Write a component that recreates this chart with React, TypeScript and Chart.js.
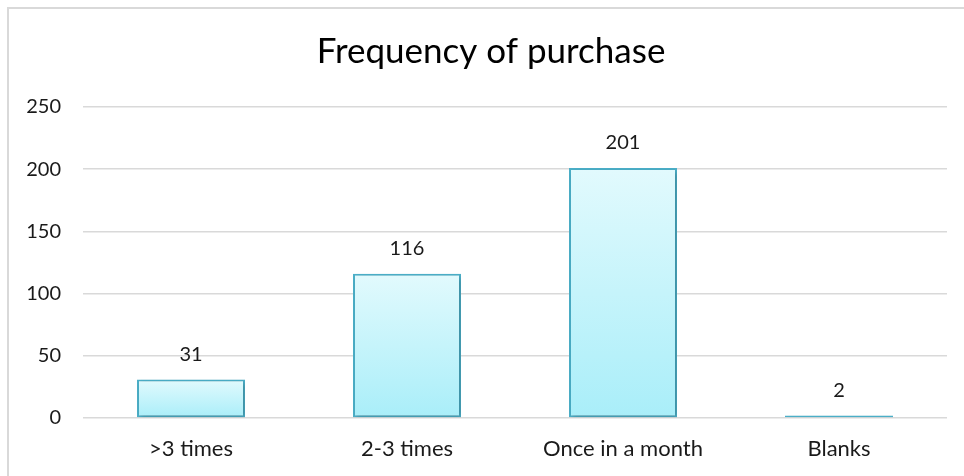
import React, { useEffect, useRef } from "react";
import { Chart, registerables } from "chart.js";

Chart.register(...registerables);

const TITLE = "Frequency of purchase";
const categories = [">3 times", "2-3 times", "Once in a month", "Blanks"];
const counts = [31, 116, 201, 2];
const yTicks = [0, 50, 100, 150, 200, 250];

const FONT = "Lato, 'Open Sans', sans-serif";

const dataLabelPlugin = {
  id: "dataLabels",
  afterDatasetsDraw(chart: any) {
    const ctx = chart.ctx;
    const meta = chart.getDatasetMeta(0);
    ctx.save();
    ctx.font = `20px ${FONT}`;
    ctx.fillStyle = "#1a1a1a";
    ctx.textAlign = "center";
    ctx.textBaseline = "middle";
    meta.data.forEach((bar: any, i: number) => {
      ctx.fillText(String(counts[i]), bar.x, bar.y - 25);
    });
    ctx.restore();
  },
};

const titlePlugin = {
  id: "centeredTitle",
  afterDraw(chart: any) {
    const ctx = chart.ctx;
    ctx.save();
    ctx.font = `35px ${FONT}`;
    ctx.fillStyle = "#000";
    ctx.textAlign = "center";
    ctx.textBaseline = "middle";
    ctx.fillText(TITLE, 491, 52);
    ctx.restore();
  },
};

const shadowPlugin = {
  id: "barShadow",
  beforeDatasetsDraw(chart: any) {
    const ctx = chart.ctx;
    ctx.save();
    ctx.shadowColor = "rgba(0,0,0,0.22)";
    ctx.shadowBlur = 5;
    ctx.shadowOffsetX = 2;
    ctx.shadowOffsetY = 2;
  },
  afterDatasetsDraw(chart: any) {
    chart.ctx.restore();
  },
};

export default function App() {
  const ref = useRef<HTMLCanvasElement | null>(null);

  useEffect(() => {
    document.body.style.margin = "0";
    const canvas = ref.current!;
    const chart = new Chart(canvas, {
      type: "bar",
      data: {
        labels: categories,
        datasets: [
          {
            data: counts,
            backgroundColor: (ctx: any) => {
              const c = ctx.chart;
              if (!c.chartArea || !c.scales || !c.scales.y) return "#c8f4fb";
              const y = c.scales.y;
              const top = y.getPixelForValue(ctx.raw ?? 0);
              const bottom = y.getPixelForValue(0);
              const g = c.ctx.createLinearGradient(0, top, 0, Math.max(bottom, top + 1));
              g.addColorStop(0, "#e2fafd");
              g.addColorStop(1, "#a9eef9");
              return g;
            },
            borderColor: "#4bafc8",
            borderWidth: 2,
            borderSkipped: false,
            barPercentage: 0.5,
            categoryPercentage: 1,
          },
        ],
      },
      options: {
        animation: false,
        responsive: false,
        maintainAspectRatio: false,
        layout: { padding: { left: 0, right: 17, top: 107, bottom: 15 } },
        plugins: {
          legend: { display: false },
          tooltip: { enabled: false },
          title: { display: false },
        },
        scales: {
          x: {
            afterFit: (scale: any) => {
              scale.height = 43;
            },
            grid: { display: false, drawTicks: false },
            border: { display: false },
            ticks: {
              color: "#1a1a1a",
              font: { family: FONT, size: 22 },
              padding: 18,
              maxRotation: 0,
            },
          },
          y: {
            min: 0,
            max: 250,
            afterFit: (scale: any) => {
              scale.width = 83;
            },
            afterBuildTicks: (scale: any) => {
              scale.ticks = yTicks.map((v) => ({ value: v }));
            },
            grid: { color: "#d9d9d9", lineWidth: 1.5, drawTicks: false },
            border: { display: false },
            ticks: {
              color: "#1a1a1a",
              font: { family: FONT, size: 20 },
              padding: 22,
            },
          },
        },
      },
      plugins: [shadowPlugin, dataLabelPlugin, titlePlugin],
    });
    return () => chart.destroy();
  }, []);

  return (
    <div style={{ position: "relative", width: 964, height: 476, overflow: "hidden", background: "#fff" }}>
      <div
        style={{
          position: "absolute",
          left: 7,
          top: 7,
          width: 1100,
          height: 600,
          border: "2px solid #d9d9d9",
          boxSizing: "border-box",
        }}
      />
      <canvas ref={ref} width={964} height={476} style={{ position: "absolute", left: 0, top: 0, width: 964, height: 476 }} />
    </div>
  );
}
